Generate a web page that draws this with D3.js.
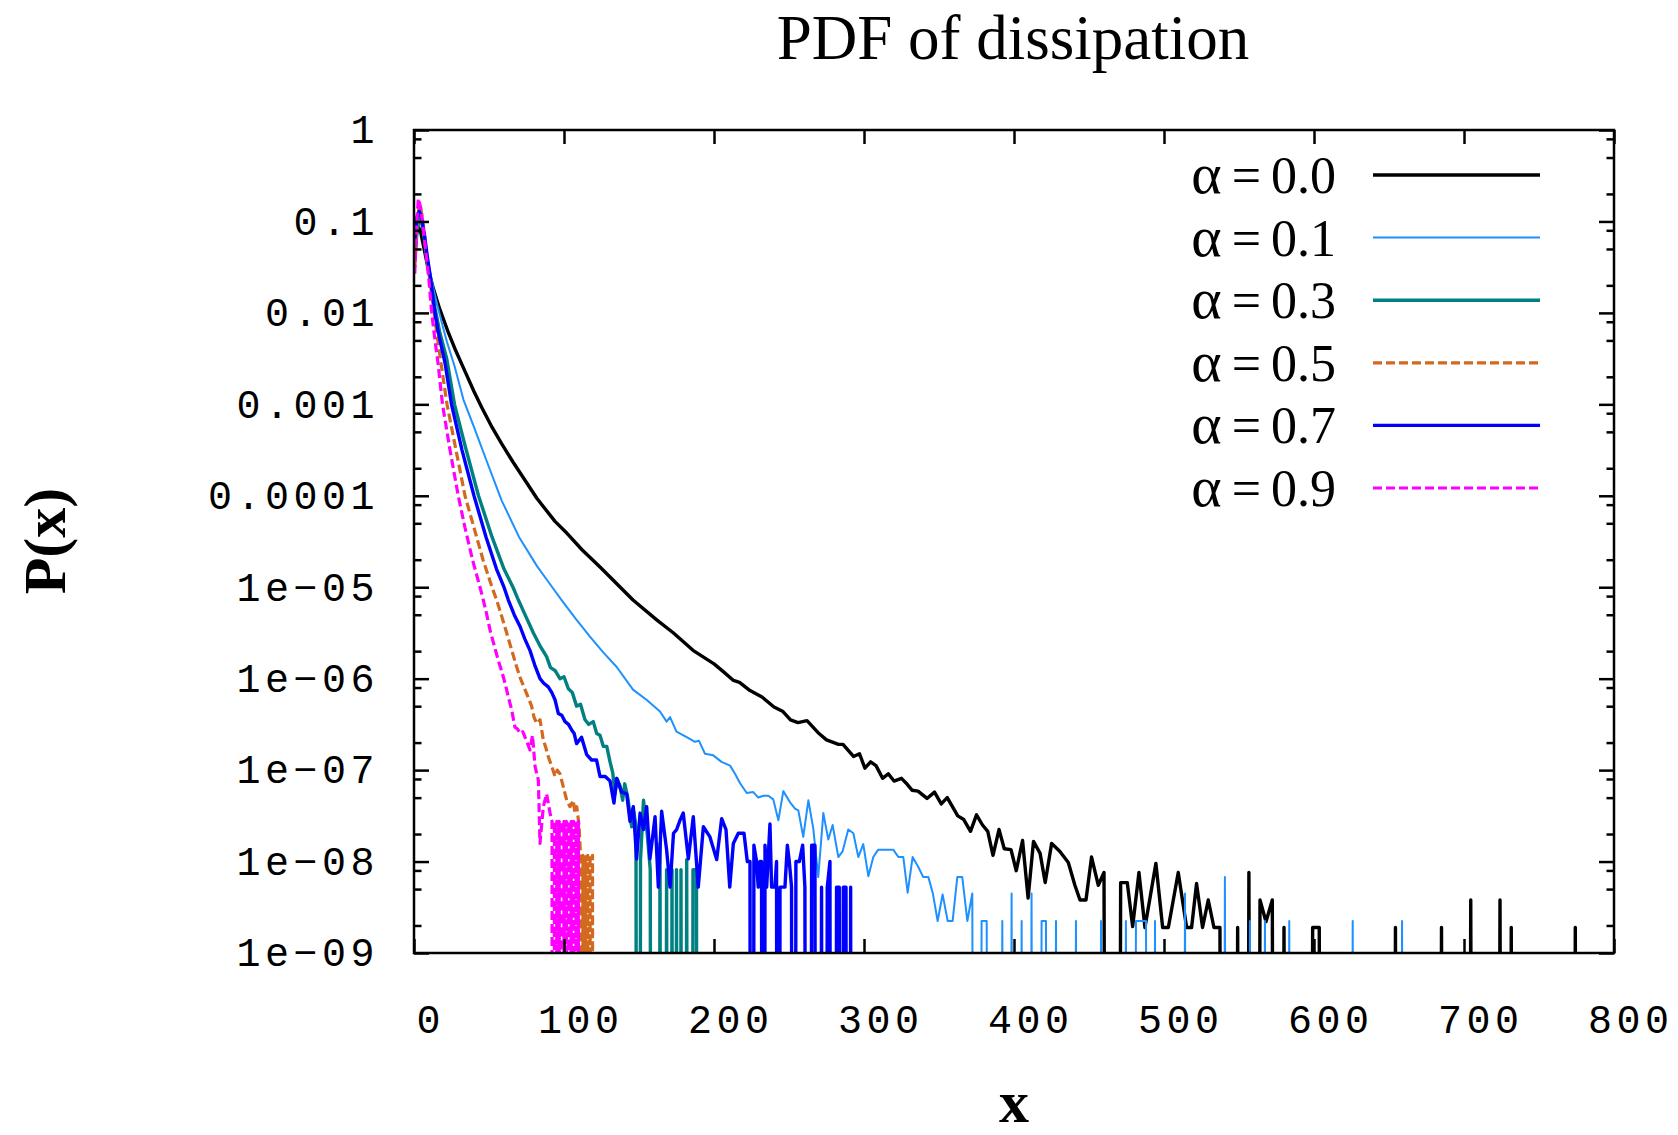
<!DOCTYPE html>
<html>
<head>
<meta charset="utf-8">
<script src="https://cdn.jsdelivr.net/npm/d3@7"></script>
<style>
    body { margin: 0; background: #fff; }
    svg { display: block; }
</style>
</head>
<body>
<svg id="chart"></svg>
<script>
// values, [x, P(x)]; 0 = empty bin
var alpha00 = [
    [0.5, 4.47e-2], [1.5, 7.08e-2], [2.9, 8.71e-2], [4.5, 7.59e-2], [6.5, 5.25e-2], [9.6, 2.95e-2],
    [13, 1.82e-2], [17, 1.12e-2], [23, 6.03e-3], [28, 3.80e-3], [34, 2.29e-3], [40, 1.38e-3],
    [45, 9.33e-4], [52, 5.62e-4], [58.4, 3.72e-4], [66, 2.34e-4], [74, 1.48e-4], [82, 9.33e-5],
    [94, 5.25e-5], [102, 3.89e-5], [112, 2.57e-5], [124, 1.66e-5], [135, 1.10e-5], [146, 7.24e-6],
    [162, 4.37e-6], [173, 3.16e-6], [186, 2.04e-6], [200, 1.45e-6], [206, 1.20e-6], [213, 9.55e-7],
    [217, 9.12e-7], [224, 7.41e-7], [232, 6.31e-7], [240, 4.90e-7], [246, 4.37e-7], [251, 3.55e-7],
    [256, 3.31e-7], [262, 3.47e-7], [270, 2.51e-7], [275, 2.14e-7], [283, 1.91e-7], [286, 1.91e-7],
    [293, 1.41e-7], [297, 1.51e-7], [300.6, 1.05e-7], [304.4, 1.23e-7], [308, 1.12e-7], [312.4, 8.13e-8],
    [316.2, 9.12e-8], [320, 7.59e-8], [325, 8.13e-8], [328, 7.24e-8], [332, 6.03e-8], [336, 5.89e-8],
    [342, 4.90e-8], [347, 5.75e-8], [351.5, 4.27e-8], [355.5, 5.01e-8], [362.5, 3.16e-8], [366.5, 2.88e-8],
    [371, 2.14e-8], [375, 3.24e-8], [379, 2.51e-8], [382.5, 2.14e-8], [386, 1.17e-8], [390, 2.24e-8],
    [393.5, 1.38e-8], [398, 1.35e-8], [401.5, 7.94e-9], [405.7, 1.70e-8], [409.4, 3.98e-9], [413, 1.66e-8],
    [417.4, 1.23e-8], [420.8, 5.89e-9], [425.1, 1.58e-8], [430.6, 1.29e-8], [436.2, 9.77e-9], [440.6, 5.50e-9],
    [444, 3.80e-9], [448, 3.80e-9], [451.7, 1.12e-8], [456.2, 5.50e-9], [460, 7.59e-9], [464, 0],
    [467.5, 0], [471.1, 5.89e-9], [475.5, 5.89e-9], [479.1, 1.95e-9], [483.3, 7.59e-9], [487.3, 1.9e-9],
    [494.6, 9.55e-9], [499.1, 1.9e-9], [502.9, 1.9e-9], [509.5, 7.59e-9], [515.1, 1.9e-9], [518.4, 1.9e-9],
    [521.7, 5.75e-9], [525.7, 1.9e-9], [529.5, 3.8e-9], [533.3, 1.9e-9], [537.3, 1.9e-9], [541, 0],
    [545, 0], [549.1, 1.9e-9], [553, 0], [556.6, 7.59e-9], [560.3, 0], [564, 3.8e-9],
    [568, 2.2e-9], [572.2, 3.8e-9], [576, 0], [580, 1.9e-9], [584, 0], [595.3, 0],
    [599.1, 1.9e-9], [603.5, 1.9e-9], [607.3, 0], [650.7, 0], [654.3, 1.9e-9], [658, 0],
    [681.3, 0], [685, 1.9e-9], [688.7, 0], [700.7, 0], [704.5, 3.8e-9], [708.3, 0],
    [720.2, 0], [724, 3.8e-9], [727.8, 0], [731.5, 1.9e-9], [735.3, 0], [770.5, 0],
    [774.2, 1.9e-9], [778, 0]
];

var alpha01 = [
    [0.5, 3.98e-2], [2, 7.59e-2], [4, 1.05e-1], [6, 8.32e-2], [8, 5.25e-2], [10, 3.31e-2],
    [12.5, 2.0e-2], [15, 1.32e-2], [18.4, 7.94e-3], [22, 4.79e-3], [27, 2.63e-3], [33, 1.12e-3],
    [40, 5.62e-4], [48, 2.51e-4], [58.4, 8.91e-5], [70, 3.55e-5], [82, 1.70e-5], [90, 1.12e-5],
    [98.4, 7.24e-6], [108, 4.47e-6], [117.3, 2.88e-6], [126, 1.95e-6], [135, 1.35e-6], [146, 7.59e-7],
    [155, 5.89e-7], [164, 4.37e-7], [168.4, 3.39e-7], [170.7, 3.80e-7], [175, 2.63e-7], [181.8, 2.29e-7],
    [187.3, 2.04e-7], [190, 2.09e-7], [194, 1.51e-7], [199.5, 1.45e-7], [205, 1.23e-7], [210.7, 1.12e-7],
    [214, 9.12e-8], [217.3, 7.24e-8], [221.8, 5.62e-8], [226.2, 5.75e-8], [229.5, 5.01e-8], [232.9, 5.25e-8],
    [236.2, 5.25e-8], [239.5, 4.79e-8], [242.9, 2.82e-8], [246.2, 5.89e-8], [250.6, 4.47e-8], [254, 3.80e-8],
    [256.2, 3.63e-8], [259.5, 1.86e-8], [262.9, 4.68e-8], [266.2, 2.29e-8], [269.5, 6.76e-9], [272.9, 3.39e-8],
    [276.2, 1.74e-8], [279.1, 2.51e-8], [282.9, 1.12e-8], [285.7, 1.29e-8], [289.5, 2.24e-8], [292.9, 2.04e-8],
    [296.2, 1.12e-8], [299.5, 1.55e-8], [302.9, 6.92e-9], [306.2, 1.12e-8], [309.5, 1.35e-8], [313, 1.35e-8],
    [316, 1.35e-8], [319.5, 1.35e-8], [322.9, 1.12e-8], [326.2, 1.12e-8], [329.1, 4.57e-9], [332.4, 1.12e-8],
    [336.2, 8.71e-9], [339.5, 6.76e-9], [342.9, 6.76e-9], [345.8, 4.57e-9], [349.1, 2.24e-9], [352.4, 4.37e-9],
    [355.8, 2.24e-9], [359.1, 2.24e-9], [362.2, 6.76e-9], [365.5, 6.76e-9], [368.9, 2.24e-9], [372.2, 4.47e-9],
    [375.5, 0], [378.4, 2.24e-9], [381.8, 2.24e-9], [385, 0], [388.5, 0], [392.2, 2.24e-9],
    [395.3, 0], [398.4, 4.47e-9], [401.7, 0], [405.1, 2.24e-9], [408.4, 0], [411.7, 4.47e-9],
    [415, 0], [418.4, 2.24e-9], [421.3, 2.24e-9], [424.6, 0], [428, 2.24e-9], [431.3, 0],
    [437.9, 0], [441.3, 2.24e-9], [444.6, 0], [454.6, 0], [458, 2.24e-9], [461.3, 0],
    [471.2, 0], [474.6, 2.24e-9], [477.9, 0], [481.3, 2.24e-9], [484.6, 2.24e-9], [488, 2.24e-9],
    [491.3, 0], [494, 2.24e-9], [497.3, 0], [510.7, 0], [514, 4.47e-9], [517.3, 0],
    [537.3, 0], [540.6, 6.76e-9], [544, 0], [554, 0], [557.3, 2.24e-9], [560.6, 0],
    [564, 0], [567.3, 2.24e-9], [570.6, 0], [580.2, 0], [583.5, 2.24e-9], [586.8, 0],
    [622.5, 0], [625.8, 2.24e-9], [629.1, 0], [655.4, 0], [658.7, 2.24e-9], [662, 0]
];

var alpha03 = [
    [0.5, 3.55e-2], [2, 7.94e-2], [3.5, 1.12e-1], [5, 1.0e-1], [7, 6.31e-2], [9, 3.55e-2],
    [11, 2.24e-2], [14, 1.12e-2], [17, 6.31e-3], [21.8, 3.16e-3], [27, 1.0e-3], [34, 3.55e-4],
    [43, 1.0e-4], [52, 3.55e-5], [60, 1.58e-5], [66, 1.0e-5], [69.6, 7.24e-6], [74, 5.01e-6],
    [79.6, 3.16e-6], [84, 2.29e-6], [88.4, 1.74e-6], [91, 1.32e-6], [94, 1.23e-6], [97.3, 1.0e-6],
    [100, 1.05e-6], [102.9, 7.76e-7], [105.5, 7.08e-7], [108.4, 5.01e-7], [111, 5.25e-7], [114, 3.55e-7],
    [116.5, 3.16e-7], [119.5, 3.39e-7], [121.8, 2.51e-7], [124, 2.40e-7], [126.2, 1.82e-7], [128.5, 1.82e-7],
    [130.7, 1.23e-7], [132.5, 9.33e-8], [134, 5.50e-8], [135.5, 7.94e-8], [137.3, 6.76e-8], [139.1, 4.68e-8],
    [140.5, 7.08e-8], [142.5, 5.01e-8], [145.1, 2.40e-8], [146.5, 3.55e-8], [148, 2.40e-8], [149.5, 0],
    [151, 1.05e-8], [153, 4.68e-8], [155.5, 2.0e-8], [157.5, 8.13e-9], [159.5, 0], [162, 0],
    [164, 1.58e-8], [166, 0], [168.4, 8.13e-9], [170.5, 0], [172, 8.13e-9], [173.5, 0],
    [175, 8.13e-9], [176.5, 0], [178, 8.13e-9], [179.5, 0], [181.8, 1.05e-8], [184, 0],
    [186, 8.13e-9], [188.3, 8.13e-9], [190.3, 0]
];

var alpha05 = [
    [0.5, 3.16e-2], [2, 1.0e-1], [3.6, 1.51e-1], [5, 1.26e-1], [7, 7.08e-2], [9, 3.55e-2],
    [11, 2.0e-2], [12.5, 1.32e-2], [15, 6.31e-3], [18, 2.82e-3], [22, 1.0e-3], [28, 3.16e-4],
    [34, 1.0e-4], [40, 4.47e-5], [46, 2.0e-5], [52, 1.0e-5], [55.1, 7.24e-6], [58.5, 4.79e-6],
    [61.8, 3.16e-6], [65, 2.09e-6], [68.4, 1.35e-6], [71, 1.0e-6], [74, 7.59e-7], [76, 6.31e-7],
    [78.4, 5.01e-7], [80, 3.80e-7], [81.8, 3.24e-7], [84, 3.55e-7], [86.2, 2.14e-7], [87.8, 1.78e-7],
    [89.5, 1.41e-7], [91.8, 1.10e-7], [94, 8.51e-8], [95.5, 1.0e-7], [97.3, 9.12e-8], [99.5, 6.61e-8],
    [101.8, 4.68e-8], [104, 3.98e-8], [106.2, 4.68e-8], [107.3, 3.39e-8], [108.5, 3.98e-8], [110, 2.51e-8],
    [111, 1.17e-8], [111.8, 0], [112.6, 1.17e-8], [113.4, 0], [114.2, 1.17e-8], [115, 0],
    [115.8, 1.17e-8], [116.6, 0], [117.4, 1.17e-8], [118.2, 0], [119, 1.17e-8], [119.8, 0]
];

var alpha07 = [
    [0.5, 6.31e-2], [2, 1.12e-1], [3.5, 1.29e-1], [5, 1.12e-1], [7, 7.08e-2], [9, 3.98e-2],
    [11, 2.40e-2], [13.5, 1.12e-2], [16, 6.31e-3], [20.7, 2.82e-3], [25, 1.0e-3], [32, 3.16e-4],
    [40, 1.0e-4], [48, 3.55e-5], [55, 1.58e-5], [60, 1.0e-5], [62.9, 7.24e-6], [66.8, 5.01e-6],
    [70.7, 3.72e-6], [74, 2.69e-6], [77.3, 2.04e-6], [80.5, 1.41e-6], [84, 1.0e-6], [86.5, 8.91e-7],
    [89.5, 8.13e-7], [91.8, 7.08e-7], [94, 5.89e-7], [96.2, 4.17e-7], [98.5, 3.98e-7], [100.7, 3.39e-7],
    [103, 3.16e-7], [105.1, 2.75e-7], [106.8, 2.51e-7], [108.4, 1.95e-7], [111.7, 2.29e-7], [115.1, 1.48e-7],
    [118.4, 1.29e-7], [121.7, 1.29e-7], [124, 8.51e-8], [127.5, 8.51e-8], [130.7, 7.59e-8], [133.3, 4.37e-8],
    [135.1, 8.13e-8], [138.4, 5.75e-8], [141.8, 5.50e-8], [144, 2.75e-8], [146.2, 3.98e-8], [148.4, 1.07e-8],
    [150.7, 3.39e-8], [153, 2.24e-8], [155.1, 3.98e-8], [157.3, 1.07e-8], [160.7, 3.09e-8], [162.9, 5.25e-9],
    [165.1, 3.55e-8], [168.4, 1.35e-8], [170.7, 5.25e-9], [173, 2.04e-8], [175.1, 2.24e-8], [177.3, 2.82e-8],
    [179.5, 3.39e-8], [182.9, 1.07e-8], [186.2, 3.09e-8], [189.5, 5.25e-9], [192.9, 2.40e-8], [197.3, 1.86e-8],
    [201.8, 1.05e-8], [205.1, 2.95e-8], [208, 2.24e-8], [210.5, 5.25e-9], [212.9, 1.58e-8], [216.2, 2.04e-8],
    [220, 2.04e-8], [222.2, 1.0e-8], [224, 1.0e-8], [225.3, 0], [226.6, 1.51e-8], [228.4, 1.0e-8],
    [229.5, 5.25e-9], [230.6, 1.0e-8], [231.7, 1.0e-8], [232.9, 0], [234, 1.51e-8], [235.1, 5.25e-9],
    [237.3, 2.57e-8], [238.4, 5.25e-9], [240.6, 5.25e-9], [241.7, 1.0e-8], [242.9, 0], [244, 5.25e-9],
    [247.3, 5.25e-9], [248.9, 1.51e-8], [250.2, 1.0e-8], [251.7, 5.25e-9], [252.9, 0], [254.6, 1.0e-8],
    [256.9, 1.0e-8], [259.1, 1.51e-8], [260.6, 5.25e-9], [262.9, 0], [265.1, 1.51e-8], [267.3, 1.51e-8],
    [268.9, 0], [271.7, 5.25e-9], [273.3, 0], [275.5, 5.25e-9], [277.3, 1.0e-8], [279.1, 0],
    [281.7, 5.25e-9], [283.5, 5.25e-9], [284.8, 0], [286.2, 5.25e-9], [288, 5.25e-9], [289.2, 0],
    [291.1, 5.25e-9], [292.3, 0]
];

var alpha09 = [
    [0.5, 2.69e-2], [1.5, 7.94e-2], [2.9, 1.78e-1], [4.5, 1.41e-1], [6, 8.91e-2], [8, 4.47e-2],
    [10, 2.24e-2], [11.8, 1.0e-2], [14, 5.01e-3], [16, 2.82e-3], [19, 1.0e-3], [24, 3.16e-4],
    [29.5, 1.0e-4], [34, 4.47e-5], [39, 2.0e-5], [44, 1.0e-5], [46.2, 7.24e-6], [48.5, 5.01e-6],
    [50.7, 3.39e-6], [53.5, 2.29e-6], [56.2, 1.58e-6], [58.5, 1.20e-6], [60.7, 8.91e-7], [62.9, 6.31e-7],
    [65.1, 4.57e-7], [67.3, 2.95e-7], [69, 2.82e-7], [70.7, 2.51e-7], [72.5, 2.63e-7], [74, 2.29e-7],
    [75.5, 2.0e-7], [77.3, 1.66e-7], [79, 2.40e-7], [80.7, 1.10e-7], [82.9, 7.76e-8], [84, 1.58e-8],
    [86.2, 3.98e-8], [88.4, 5.50e-8], [90.7, 3.39e-8], [92, 2.75e-8], [92.8, 0], [93.6, 2.75e-8],
    [94.4, 0], [95.2, 2.75e-8], [96, 0], [96.8, 2.75e-8], [97.6, 0], [98.4, 2.75e-8],
    [99.2, 0], [100, 2.75e-8], [100.8, 0], [101.6, 2.75e-8], [102.4, 0], [103.2, 2.75e-8],
    [104, 0], [104.8, 2.75e-8], [105.6, 0], [106.4, 2.75e-8], [107.2, 0], [108, 2.75e-8],
    [108.8, 0], [109.6, 2.75e-8], [110.4, 0]
];

var seriesData = [alpha00, alpha01, alpha03, alpha05, alpha07, alpha09];
var seriesAlpha = ['0.0', '0.1', '0.3', '0.5', '0.7', '0.9'];
var seriesColors = ['#000000', '#1e90ff', '#008080', '#d2691e', '#0000ff', '#ff00ff'];
var seriesWidths = [3.4, 2, 3.4, 3.2, 3.4, 3.2];
var seriesDash = [null, null, null, '9,4', null, '9,4'];

var xTicks = [0, 100, 200, 300, 400, 500, 600, 700, 800];
var yTicks = [1, 1e-1, 1e-2, 1e-3, 1e-4, 1e-5, 1e-6, 1e-7, 1e-8, 1e-9];
var yTickLabels = ['1', '0.1', '0.01', '0.001', '0.0001', '1e\u221205', '1e\u221206', '1e\u221207', '1e\u221208', '1e\u221209'];

var width = 1678,
    height = 1135;

var plot = {
    left: 414,
    right: 1614,
    top: 130,
    bottom: 953
};

var tickFont = "'Liberation Mono', 'DejaVu Sans Mono', monospace";
var serifFont = "'Liberation Serif', 'Times New Roman', serif";

// minor log ticks at 2, 5, 8 x 10^n
var yMinor = [];
yTicks.slice(1).forEach(function (d) {
    [2, 5, 8].forEach(function (m) {
        yMinor.push(d * m);
    });
});

var x = d3.scaleLinear().domain([0, 800]).range([plot.left, plot.right]);
var y = d3.scaleLog().domain([1e-9, 1]).range([plot.bottom, plot.top]);

var svg = d3.select('#chart')
    .attr('width', width)
    .attr('height', height);

svg.append('rect')
    .attr('width', width)
    .attr('height', height)
    .attr('fill', '#fff');

svg.append('defs').append('clipPath')
    .attr('id', 'plot-clip')
    .append('rect')
    .attr('x', plot.left)
    .attr('y', plot.top)
    .attr('width', plot.right - plot.left)
    .attr('height', plot.bottom - plot.top);

// empty bins fall off the bottom of the log axis
var line = d3.line()
    .x(function (d) { return x(d[0]); })
    .y(function (d) { return y(d[1] > 0 ? d[1] : 1e-30); });

var curves = svg.append('g')
    .attr('class', 'curves')
    .attr('clip-path', 'url(#plot-clip)');

seriesData.forEach(function (data, i) {
    curves.append('path')
        .datum(data)
        .attr('d', line)
        .attr('fill', 'none')
        .attr('stroke', seriesColors[i])
        .attr('stroke-width', seriesWidths[i])
        .attr('stroke-linejoin', 'round')
        .attr('stroke-dasharray', seriesDash[i]);
});

function styleAxis(g) {
    g.select('.domain').remove();
    g.selectAll('.tick line')
        .attr('stroke', '#000')
        .attr('stroke-width', 2.5);
    g.selectAll('.tick text')
        .attr('fill', '#000')
        .style('font-family', tickFont)
        .style('font-size', '40px')
        .style('letter-spacing', '4.5px');
}

svg.append('g')
    .attr('transform', 'translate(' + plot.left + ',0)')
    .call(d3.axisLeft(y).tickValues(yTicks)
        .tickFormat(function (d, i) { return yTickLabels[i]; })
        .tickSizeInner(-15).tickSizeOuter(0).tickPadding(35))
    .call(styleAxis);

svg.append('g')
    .attr('transform', 'translate(' + plot.left + ',0)')
    .call(d3.axisLeft(y).tickValues(yMinor).tickFormat('')
        .tickSizeInner(-7.5).tickSizeOuter(0))
    .call(styleAxis);

svg.append('g')
    .attr('transform', 'translate(' + plot.right + ',0)')
    .call(d3.axisRight(y).tickValues(yTicks).tickFormat('')
        .tickSizeInner(-15).tickSizeOuter(0))
    .call(styleAxis);

svg.append('g')
    .attr('transform', 'translate(' + plot.right + ',0)')
    .call(d3.axisRight(y).tickValues(yMinor).tickFormat('')
        .tickSizeInner(-7.5).tickSizeOuter(0))
    .call(styleAxis);

svg.append('g')
    .attr('transform', 'translate(0,' + plot.bottom + ')')
    .call(d3.axisBottom(x).tickValues(xTicks)
        .tickFormat(d3.format('d'))
        .tickSizeInner(-14).tickSizeOuter(0).tickPadding(51.6))
    .call(styleAxis)
    .selectAll('.tick text')
    .attr('dx', 16.25);

svg.append('g')
    .attr('transform', 'translate(0,' + plot.top + ')')
    .call(d3.axisTop(x).tickValues(xTicks).tickFormat('')
        .tickSizeInner(-14).tickSizeOuter(0))
    .call(styleAxis);

svg.append('rect')
    .attr('x', plot.left)
    .attr('y', plot.top)
    .attr('width', plot.right - plot.left)
    .attr('height', plot.bottom - plot.top)
    .attr('fill', 'none')
    .attr('stroke', '#000')
    .attr('stroke-width', 2.5);

// legend
var legend = svg.append('g').attr('class', 'legend');

seriesAlpha.forEach(function (a, i) {
    var rowY = 175 + i * 62.6;

    var label = legend.append('text')
        .attr('x', 1336)
        .attr('y', rowY + 18)
        .attr('text-anchor', 'end')
        .style('font-family', serifFont)
        .style('font-size', '52px');

    label.append('tspan').style('font-size', '58px').text('α');
    label.append('tspan').attr('dx', 10).text('=');
    label.append('tspan').attr('dx', 10).text(a);

    legend.append('line')
        .attr('x1', 1373)
        .attr('x2', 1540)
        .attr('y1', rowY)
        .attr('y2', rowY)
        .attr('stroke', seriesColors[i])
        .attr('stroke-width', seriesWidths[i])
        .attr('stroke-dasharray', seriesDash[i]);
});

// titles
svg.append('text')
    .attr('x', 1013)
    .attr('y', 59)
    .attr('text-anchor', 'middle')
    .style('font-family', serifFont)
    .style('font-size', '63px')
    .text('PDF of dissipation');

svg.append('text')
    .attr('transform', 'translate(65,541) rotate(-90)')
    .attr('text-anchor', 'middle')
    .style('font-family', serifFont)
    .style('font-size', '60px')
    .style('font-weight', 'bold')
    .text('P(x)');

svg.append('text')
    .attr('x', 1014)
    .attr('y', 1122)
    .attr('text-anchor', 'middle')
    .style('font-family', serifFont)
    .style('font-size', '60px')
    .style('font-weight', 'bold')
    .text('x');
</script>
</body>
</html>
